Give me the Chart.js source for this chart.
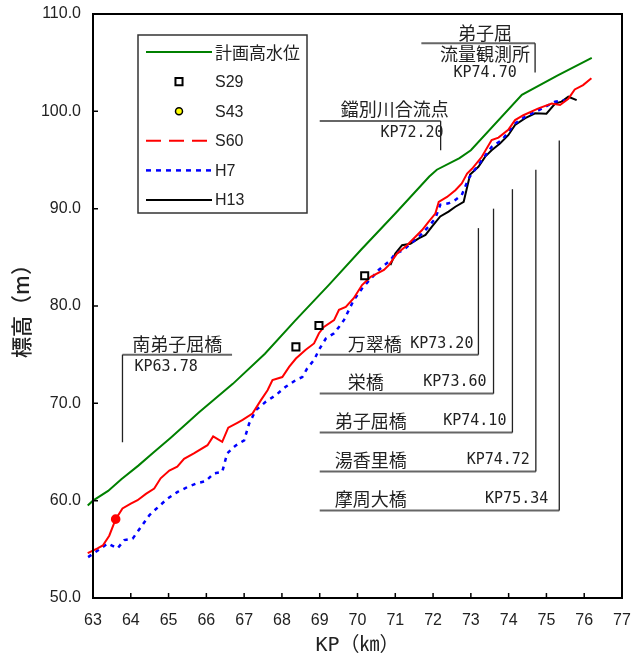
<!DOCTYPE html>
<html>
<head>
<meta charset="utf-8">
<script src="https://cdn.jsdelivr.net/npm/chart.js@4.4.1/dist/chart.umd.min.js"></script>
<style>
html,body{margin:0;padding:0;background:#fff;}
#wrap{width:633px;height:661px;position:relative;}
</style>
</head>
<body>
<div id="wrap"><canvas id="c" width="633" height="661"></canvas></div>
<script>
// ---- tick labels ----
const xTickValues = [63,64,65,66,67,68,69,70,71,72,73,74,75,76,77];
const yTickValues = [50,60,70,80,90,100,110];

// ---- 計画高水位 ----
const kpPlan   = [62.86,63.0,63.4,63.75,64.2,64.6,65.05,65.5,65.8,66.7,67.55,68.35,69.25,70.1,71.0,71.9,72.1,72.7,73.0,74.35,75.3,76.2];
const elevPlan = [59.5,60.0,61.0,62.2,63.6,64.95,66.45,68.0,69.05,72.0,75.1,78.5,82.2,85.8,89.5,93.3,94.0,95.2,96.0,101.7,103.7,105.5];

// ---- S29 ----
const kpS29   = [68.37,68.98,70.19];
const elevS29 = [75.8,78.0,83.1];

// ---- S43 ----
const kpS43   = [];
const elevS43 = [];

// ---- S60 ----
const kpS60 = [62.86,63.12,63.26,63.43,63.6,63.78,64.0,64.18,64.4,64.62,64.79,65.02,65.23,65.41,65.67,66.03,66.18,66.42,66.58,66.82,66.96,67.22,67.44,67.62,67.75,68.01,68.19,68.37,68.63,68.85,68.98,69.11,69.38,69.51,69.69,69.9,70.12,70.35,70.7,70.83,71.05,71.31,71.58,71.71,71.88,72.06,72.15,72.37,72.59,72.76,72.9,73.03,73.29,73.55,73.73,73.99,74.17,74.39,74.79,75.14,75.36,75.58,75.75,75.97,76.19];
const elevS60 = [54.6,55.1,55.4,56.4,58.1,59.2,59.7,60.05,60.7,61.25,62.3,63.1,63.5,64.3,64.85,65.7,66.6,66.05,67.5,68.0,68.3,68.95,70.3,71.35,72.4,72.7,73.75,74.6,75.5,76.15,77.2,77.85,78.55,79.6,79.9,80.8,82.15,83.0,83.7,84.2,85.4,86.25,87.3,87.8,88.65,89.5,90.7,91.2,91.9,92.6,93.6,94.1,95.33,97.05,97.3,98.1,99.1,99.6,100.3,100.8,100.65,101.3,102.25,102.7,103.4];
const s60MarkedKP = 63.6;

// ---- H7 ----
const kpH7 = [62.87,63.21,63.39,63.65,63.83,64.05,64.27,64.49,64.71,64.97,65.24,65.5,65.76,65.98,66.2,66.42,66.55,66.77,67.0,67.13,67.31,67.57,67.84,68.1,68.37,68.54,68.67,68.85,68.98,69.16,69.38,69.51,69.64,69.9,70.12,70.56,70.87,71.0,71.22,71.4,71.62,71.88,72.06,72.19,72.41,72.59,72.76,72.94,73.03,73.55,73.82,74.17,74.44,74.79,75.23,75.49];
const elevH7 = [54.2,55.1,55.6,55.1,55.95,56.1,57.3,58.5,59.3,60.2,60.9,61.4,61.8,62.0,62.8,62.95,64.85,65.65,66.2,67.9,69.3,70.15,70.85,71.7,72.4,72.7,73.6,74.45,75.5,76.65,77.2,77.85,78.55,80.6,81.8,83.7,84.7,85.4,85.75,86.4,87.1,88.15,89.0,90.4,90.55,90.9,91.4,93.1,93.6,96.35,97.05,98.75,99.45,100.1,101.0,101.15];

// ---- H13 ----
const kpH13   = [70.87,71.0,71.18,71.4,71.62,71.8,71.97,72.19,72.41,72.59,72.81,72.98,73.2,73.38,73.55,73.77,73.99,74.17,74.44,74.7,75.0,75.23,75.4,75.58,75.8];
const elevH13 = [84.2,85.4,86.25,86.4,86.95,87.3,88.15,89.2,89.7,90.2,90.7,93.5,94.3,95.35,96.0,96.7,97.55,98.6,99.3,99.8,99.75,100.8,101.0,101.5,101.15];

// ---- annotations (names / KP) ----
const bridgeNames = ['万翠橋','栄橋','弟子屈橋','湯香里橋','摩周大橋'];
const bridgeKP    = [73.20,73.60,74.10,74.72,75.34];
const minamiName = '南弟子屈橋', minamiKP = 63.78;
const toubetsuName = '鐺別川合流点', toubetsuKP = 72.20;
const gaugeName = ['弟子屈','流量観測所'], gaugeKP = 74.70;

// ---- layout (not data) ----
const bridgeLayout = {
  lineStartKP: 69.0,
  tops:    [88,90,92,94,97],
  bottoms: [75,71,67,63,59],
  nameDx:  [28,28,15,15,15],
  kpDx:    [5,7,6,6,11]
};
const minamiLayout = {lineEndKP: 66.68, lineElev: 75, bottomElev: 66};
const toubetsuLayout = {lineStartKP: 69.0, lineElev: 99, bottomElev: 96};
const gaugeLayout = {lineStartKP: 71.69, lineElev: 107, bottomElev: 104};

const JP = '"Noto Sans CJK JP", sans-serif';
const MONO = '"DejaVu Sans Mono", "Liberation Mono", monospace';
const SANS = '"Liberation Sans", Arial, sans-serif';

const pts = (xs, ys) => xs.map((x, i) => ({x: x, y: ys[i]}));

const decoPlugin = {
  id: 'deco',
  afterDatasetsDraw(chart) {
    const ctx = chart.ctx;
    const a = chart.chartArea;
    const xs = chart.scales.x, ys = chart.scales.y;
    const X = v => xs.getPixelForValue(v);
    const Y = v => ys.getPixelForValue(v);
    ctx.save();

    // frame
    ctx.strokeStyle = '#000';
    ctx.lineWidth = 2;
    ctx.strokeRect(a.left, a.top, a.right - a.left, a.bottom - a.top);
    // inner ticks
    ctx.lineWidth = 1.5;
    ctx.beginPath();
    xs.ticks.forEach(t => { const px = X(t.value); ctx.moveTo(px, a.bottom); ctx.lineTo(px, a.bottom - 5); });
    ys.ticks.forEach(t => { const py = Y(t.value); ctx.moveTo(a.left, py); ctx.lineTo(a.left + 5, py); });
    ctx.stroke();

    const hLine = (x1, x2, y) => { ctx.strokeStyle = '#666'; ctx.lineWidth = 2; ctx.beginPath(); ctx.moveTo(x1, y); ctx.lineTo(x2, y); ctx.stroke(); };
    const vLine = (x, y1, y2) => { ctx.strokeStyle = '#222'; ctx.lineWidth = 1.3; ctx.beginPath(); ctx.moveTo(x, y1); ctx.lineTo(x, y2); ctx.stroke(); };
    const text = (s, x, y, font, align) => { ctx.fillStyle = '#222'; ctx.font = font; ctx.textAlign = align; ctx.textBaseline = 'middle'; ctx.fillText(s, x, y); };
    const fJP = '18px ' + JP;
    const fKP = '15px ' + MONO;

    // bridges
    bridgeNames.forEach((nm, i) => {
      const lx = X(bridgeKP[i]);
      const ly = Y(bridgeLayout.bottoms[i]);
      const x0 = X(bridgeLayout.lineStartKP);
      hLine(x0, lx, ly);
      vLine(lx, Y(bridgeLayout.tops[i]), ly);
      text(nm, x0 + bridgeLayout.nameDx[i], ly - 11, fJP, 'left');
      text('KP' + bridgeKP[i].toFixed(2), lx - bridgeLayout.kpDx[i], ly - 11, fKP, 'right');
    });

    // 南弟子屈橋
    {
      const lx = X(minamiKP), ly = Y(minamiLayout.lineElev), x2 = X(minamiLayout.lineEndKP);
      hLine(lx, x2, ly);
      vLine(lx, ly, Y(minamiLayout.bottomElev));
      text(minamiName, (lx + x2) / 2, ly - 11, fJP, 'center');
      text('KP' + minamiKP.toFixed(2), lx + 12, ly + 12, fKP, 'left');
    }
    // 鐺別川合流点
    {
      const lx = X(toubetsuKP), ly = Y(toubetsuLayout.lineElev), x0 = X(toubetsuLayout.lineStartKP);
      hLine(x0, lx, ly);
      vLine(lx, ly, Y(toubetsuLayout.bottomElev));
      text(toubetsuName, lx + 8, ly - 12, fJP, 'right');
      text('KP' + toubetsuKP.toFixed(2), lx + 3, ly + 12, fKP, 'right');
    }
    // 弟子屈 流量観測所
    {
      const lx = X(gaugeKP), ly = Y(gaugeLayout.lineElev), x0 = X(gaugeLayout.lineStartKP);
      hLine(x0, lx, ly);
      vLine(lx, ly, Y(gaugeLayout.bottomElev));
      const cx = lx - 50;
      text(gaugeName[0], cx, ly - 10, fJP, 'center');
      text(gaugeName[1], cx, ly + 11, fJP, 'center');
      text('KP' + gaugeKP.toFixed(2), cx, ly + 30, fKP, 'center');
    }

    // legend box
    const bx = a.left + 45, by = a.top + 21, bw = 169, bh = 178;
    ctx.fillStyle = '#fff';
    ctx.fillRect(bx, by, bw, bh);
    ctx.strokeStyle = '#333';
    ctx.lineWidth = 1.5;
    ctx.strokeRect(bx, by, bw, bh);
    chart.data.datasets.forEach((ds, i) => {
      const cy = by + 17 + i * 29.6;
      if (ds.showLine === false) {
        ctx.fillStyle = ds.pointBackgroundColor;
        ctx.strokeStyle = ds.pointBorderColor;
        ctx.lineWidth = ds.pointBorderWidth;
        Chart.helpers.drawPoint(ctx, {pointStyle: ds.pointStyle, radius: ds.legendRadius, rotation: 0, borderWidth: ds.pointBorderWidth}, bx + 41, cy);
      } else {
        ctx.strokeStyle = ds.borderColor;
        ctx.lineWidth = ds.borderWidth;
        ctx.setLineDash(ds.legendDash || []);
        ctx.beginPath();
        ctx.moveTo(bx + 8, cy);
        ctx.lineTo(bx + 74, cy);
        ctx.stroke();
        ctx.setLineDash([]);
      }
      const isJP = /[^\x00-\x7f]/.test(ds.label);
      text(ds.label, bx + 77, cy + 1, isJP ? '17px ' + JP : '16px ' + SANS, 'left');
    });
    ctx.restore();
  }
};

new Chart(document.getElementById('c'), {
  type: 'line',
  data: {
    datasets: [
      {label: '計画高水位', data: pts(kpPlan, elevPlan), borderColor: '#008000', borderWidth: 2, pointRadius: 0, tension: 0, clip: false, legendDash: []},
      {label: 'S29', data: pts(kpS29, elevS29), showLine: false, pointStyle: 'rect', pointRadius: 5, legendRadius: 5, pointBorderWidth: 2, pointBorderColor: '#000', pointBackgroundColor: '#fff', clip: false},
      {label: 'S43', data: pts(kpS43, elevS43), showLine: false, pointStyle: 'circle', pointRadius: 3.5, legendRadius: 3.5, pointBorderWidth: 1.5, pointBorderColor: '#000', pointBackgroundColor: '#ffff00', clip: false},
      {label: 'S60', data: pts(kpS60, elevS60), borderColor: '#ff0000', borderWidth: 2, tension: 0, clip: false, legendDash: [15, 8],
        pointRadius: c => (c.raw && c.raw.x === s60MarkedKP) ? 3.8 : 0, pointBackgroundColor: '#ff0000', pointBorderColor: '#ff0000'},
      {label: 'H7', data: pts(kpH7, elevH7), borderColor: '#0000ff', borderWidth: 2.5, borderDash: [4, 5], pointRadius: 0, tension: 0, clip: false, legendDash: [5, 5]},
      {label: 'H13', data: pts(kpH13, elevH13), borderColor: '#000000', borderWidth: 2, pointRadius: 0, tension: 0, clip: false, legendDash: []}
    ]
  },
  options: {
    responsive: false,
    animation: false,
    events: [],
    layout: {padding: {top: 14, right: 11, left: 0, bottom: 0}},
    plugins: {legend: {display: false}, tooltip: {enabled: false}, title: {display: false}},
    scales: {
      x: {
        type: 'linear', min: 63, max: 77,
        afterBuildTicks: s => { s.ticks = xTickValues.map(v => ({value: v})); },
        afterFit: s => { s.height = 63; s.paddingLeft = 0; s.paddingRight = 0; },
        grid: {display: false, drawTicks: false},
        border: {display: false},
        ticks: {color: '#222', font: {family: SANS, size: 16}, padding: 13, maxRotation: 0, autoSkip: false, callback: v => String(v)},
        title: {display: true, text: 'KP（㎞）', color: '#222', font: {family: MONO.replace('monospace', '') + JP, size: 20}, padding: {top: 0, bottom: 3}}
      },
      y: {
        type: 'linear', min: 50, max: 110,
        afterBuildTicks: s => { s.ticks = yTickValues.map(v => ({value: v})); },
        afterFit: s => { s.width = 93; s.paddingTop = 0; s.paddingBottom = 0; },
        grid: {display: false, drawTicks: false},
        border: {display: false},
        ticks: {color: '#222', font: {family: SANS, size: 16}, padding: 12, autoSkip: false, callback: v => Number(v).toFixed(1)},
        title: {display: true, text: '標高（m）', color: '#222', font: {family: JP, size: 21, weight: '500'}, padding: {top: 8, bottom: 0}}
      }
    }
  },
  plugins: [decoPlugin]
});
</script>
</body>
</html>
